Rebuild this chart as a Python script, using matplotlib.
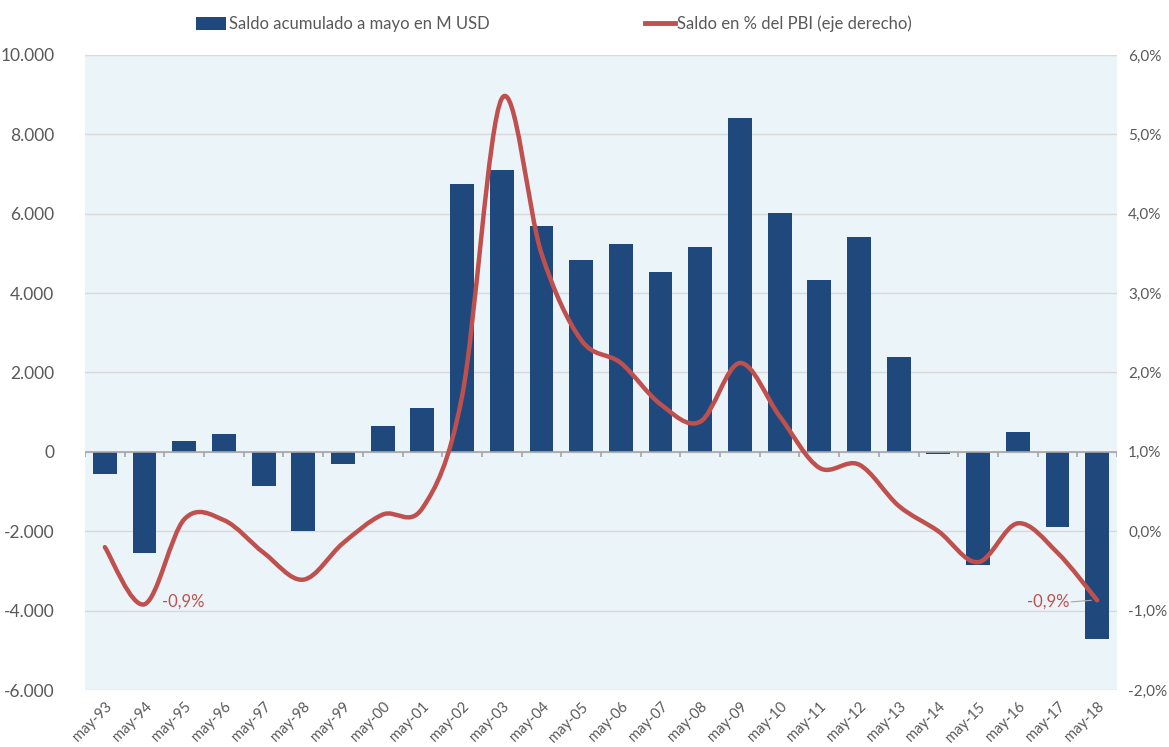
import numpy as np
import matplotlib.pyplot as plt
from matplotlib.path import Path
from matplotlib.patches import PathPatch, Patch
from matplotlib.lines import Line2D
from matplotlib.ticker import FuncFormatter, MultipleLocator

plt.rcParams['font.family'] = ['Lato', 'DejaVu Sans']

# datos
etiquetas = ["may-93", "may-94", "may-95", "may-96", "may-97", "may-98", "may-99",
             "may-00", "may-01", "may-02", "may-03", "may-04", "may-05", "may-06",
             "may-07", "may-08", "may-09", "may-10", "may-11", "may-12", "may-13",
             "may-14", "may-15", "may-16", "may-17", "may-18"]
saldo_musd = [-550, -2550, 270, 440, -850, -2000, -300, 650, 1100, 6750, 7100, 5700,
              4830, 5250, 4530, 5150, 8420, 6030, 4340, 5420, 2390, -60, -2840, 500,
              -1890, -4710]
saldo_pbi = [-0.20, -0.92, 0.15, 0.14, -0.27, -0.61, -0.15, 0.21, 0.29, 1.70, 5.45,
             3.50, 2.41, 2.12, 1.60, 1.38, 2.12, 1.45, 0.80, 0.84, 0.32, 0.00, -0.39,
             0.10, -0.27, -0.87]

azul = '#1F497D'
rojo = '#C0504D'
gris_txt = '#595959'
fondo = '#EBF4F9'

fig = plt.figure(figsize=(11.69, 7.47), dpi=100)
ax = fig.add_axes([0.0727, 0.0763, 0.8828, 0.8501])
ax.set_facecolor(fondo)
x = np.arange(len(etiquetas))

ax.bar(x, saldo_musd, width=0.6, color=azul, zorder=3)
ax.set_xlim(-0.5, len(etiquetas) - 0.5)
ax.set_ylim(-6000, 10000)
ax.yaxis.set_major_locator(MultipleLocator(2000))
ax.yaxis.set_major_formatter(FuncFormatter(lambda v, p: f"{v:,.0f}".replace(",", ".")))
ax.grid(axis='y', color='#D9D9D9', lw=1, zorder=0)
ax.axhline(0, color='#A6A6A6', lw=1.2, zorder=4)
# marcas sobre el eje cero
ax.vlines(x[:-1] + 0.5, 0, -130, color='#A6A6A6', lw=1.2, zorder=4)
ax.vlines([-0.5, len(etiquetas) - 0.5], 0, -130, color='#A6A6A6', lw=1.2, zorder=4)

ax.set_xticks(x)
ax.set_xticklabels(etiquetas, rotation=45, ha='right', rotation_mode='anchor',
                   fontsize=10.5, color=gris_txt)
ax.tick_params(axis='x', length=0, pad=7)
ax.tick_params(axis='y', length=0, labelsize=12.5, labelcolor=gris_txt, pad=22)
for s in ax.spines.values():
    s.set_visible(False)

ax2 = ax.twinx()
ax2.set_ylim(-2, 6)
ax2.yaxis.set_major_locator(MultipleLocator(1))
ax2.yaxis.set_major_formatter(FuncFormatter(lambda v, p: f"{v:.1f}%".replace(".", ",")))
ax2.tick_params(axis='y', length=0, labelsize=11, labelcolor=gris_txt, pad=8)
for s in ax2.spines.values():
    s.set_visible(False)

# linea suavizada (bezier estilo Excel)
pts = np.column_stack([x, saldo_pbi]).astype(float)
ext = np.vstack([pts[0], pts, pts[-1]])
verts = [tuple(pts[0])]
codes = [Path.MOVETO]
for i in range(len(pts) - 1):
    p0, p1, p2, p3 = ext[i], ext[i + 1], ext[i + 2], ext[i + 3]
    c1 = p1 + (p2 - p0) / 6
    c2 = p2 - (p3 - p1) / 6
    verts += [tuple(c1), tuple(c2), tuple(p2)]
    codes += [Path.CURVE4] * 3
ax2.add_patch(PathPatch(Path(verts, codes), fill=False, edgecolor=rojo, lw=3.2,
                        capstyle='round', joinstyle='round', zorder=5))

ax2.text(1.45, saldo_pbi[1] + 0.03, "-0,9%", color=rojo, fontsize=12, va='center', ha='left')
ax2.text(24.3, saldo_pbi[1] + 0.03, "-0,9%", color=rojo, fontsize=12, va='center', ha='right')
ax2.plot([24.35, 24.85], [saldo_pbi[1] + 0.03, saldo_pbi[-1]], color='#A6A6A6', lw=0.8, zorder=6)

handles = [Patch(facecolor=azul, edgecolor='none'),
           Line2D([0], [0], color=rojo, lw=3.5)]
fig.legend(handles, ["Saldo acumulado a mayo en M USD", "Saldo en % del PBI (eje derecho)"],
           loc='center', bbox_to_anchor=(0.474, 0.968), ncol=2, frameon=False,
           fontsize=12, labelcolor=gris_txt, handlelength=1.8, handleheight=0.9,
           handletextpad=0.15, columnspacing=9.3)

fig.savefig("out.png", dpi=100)
